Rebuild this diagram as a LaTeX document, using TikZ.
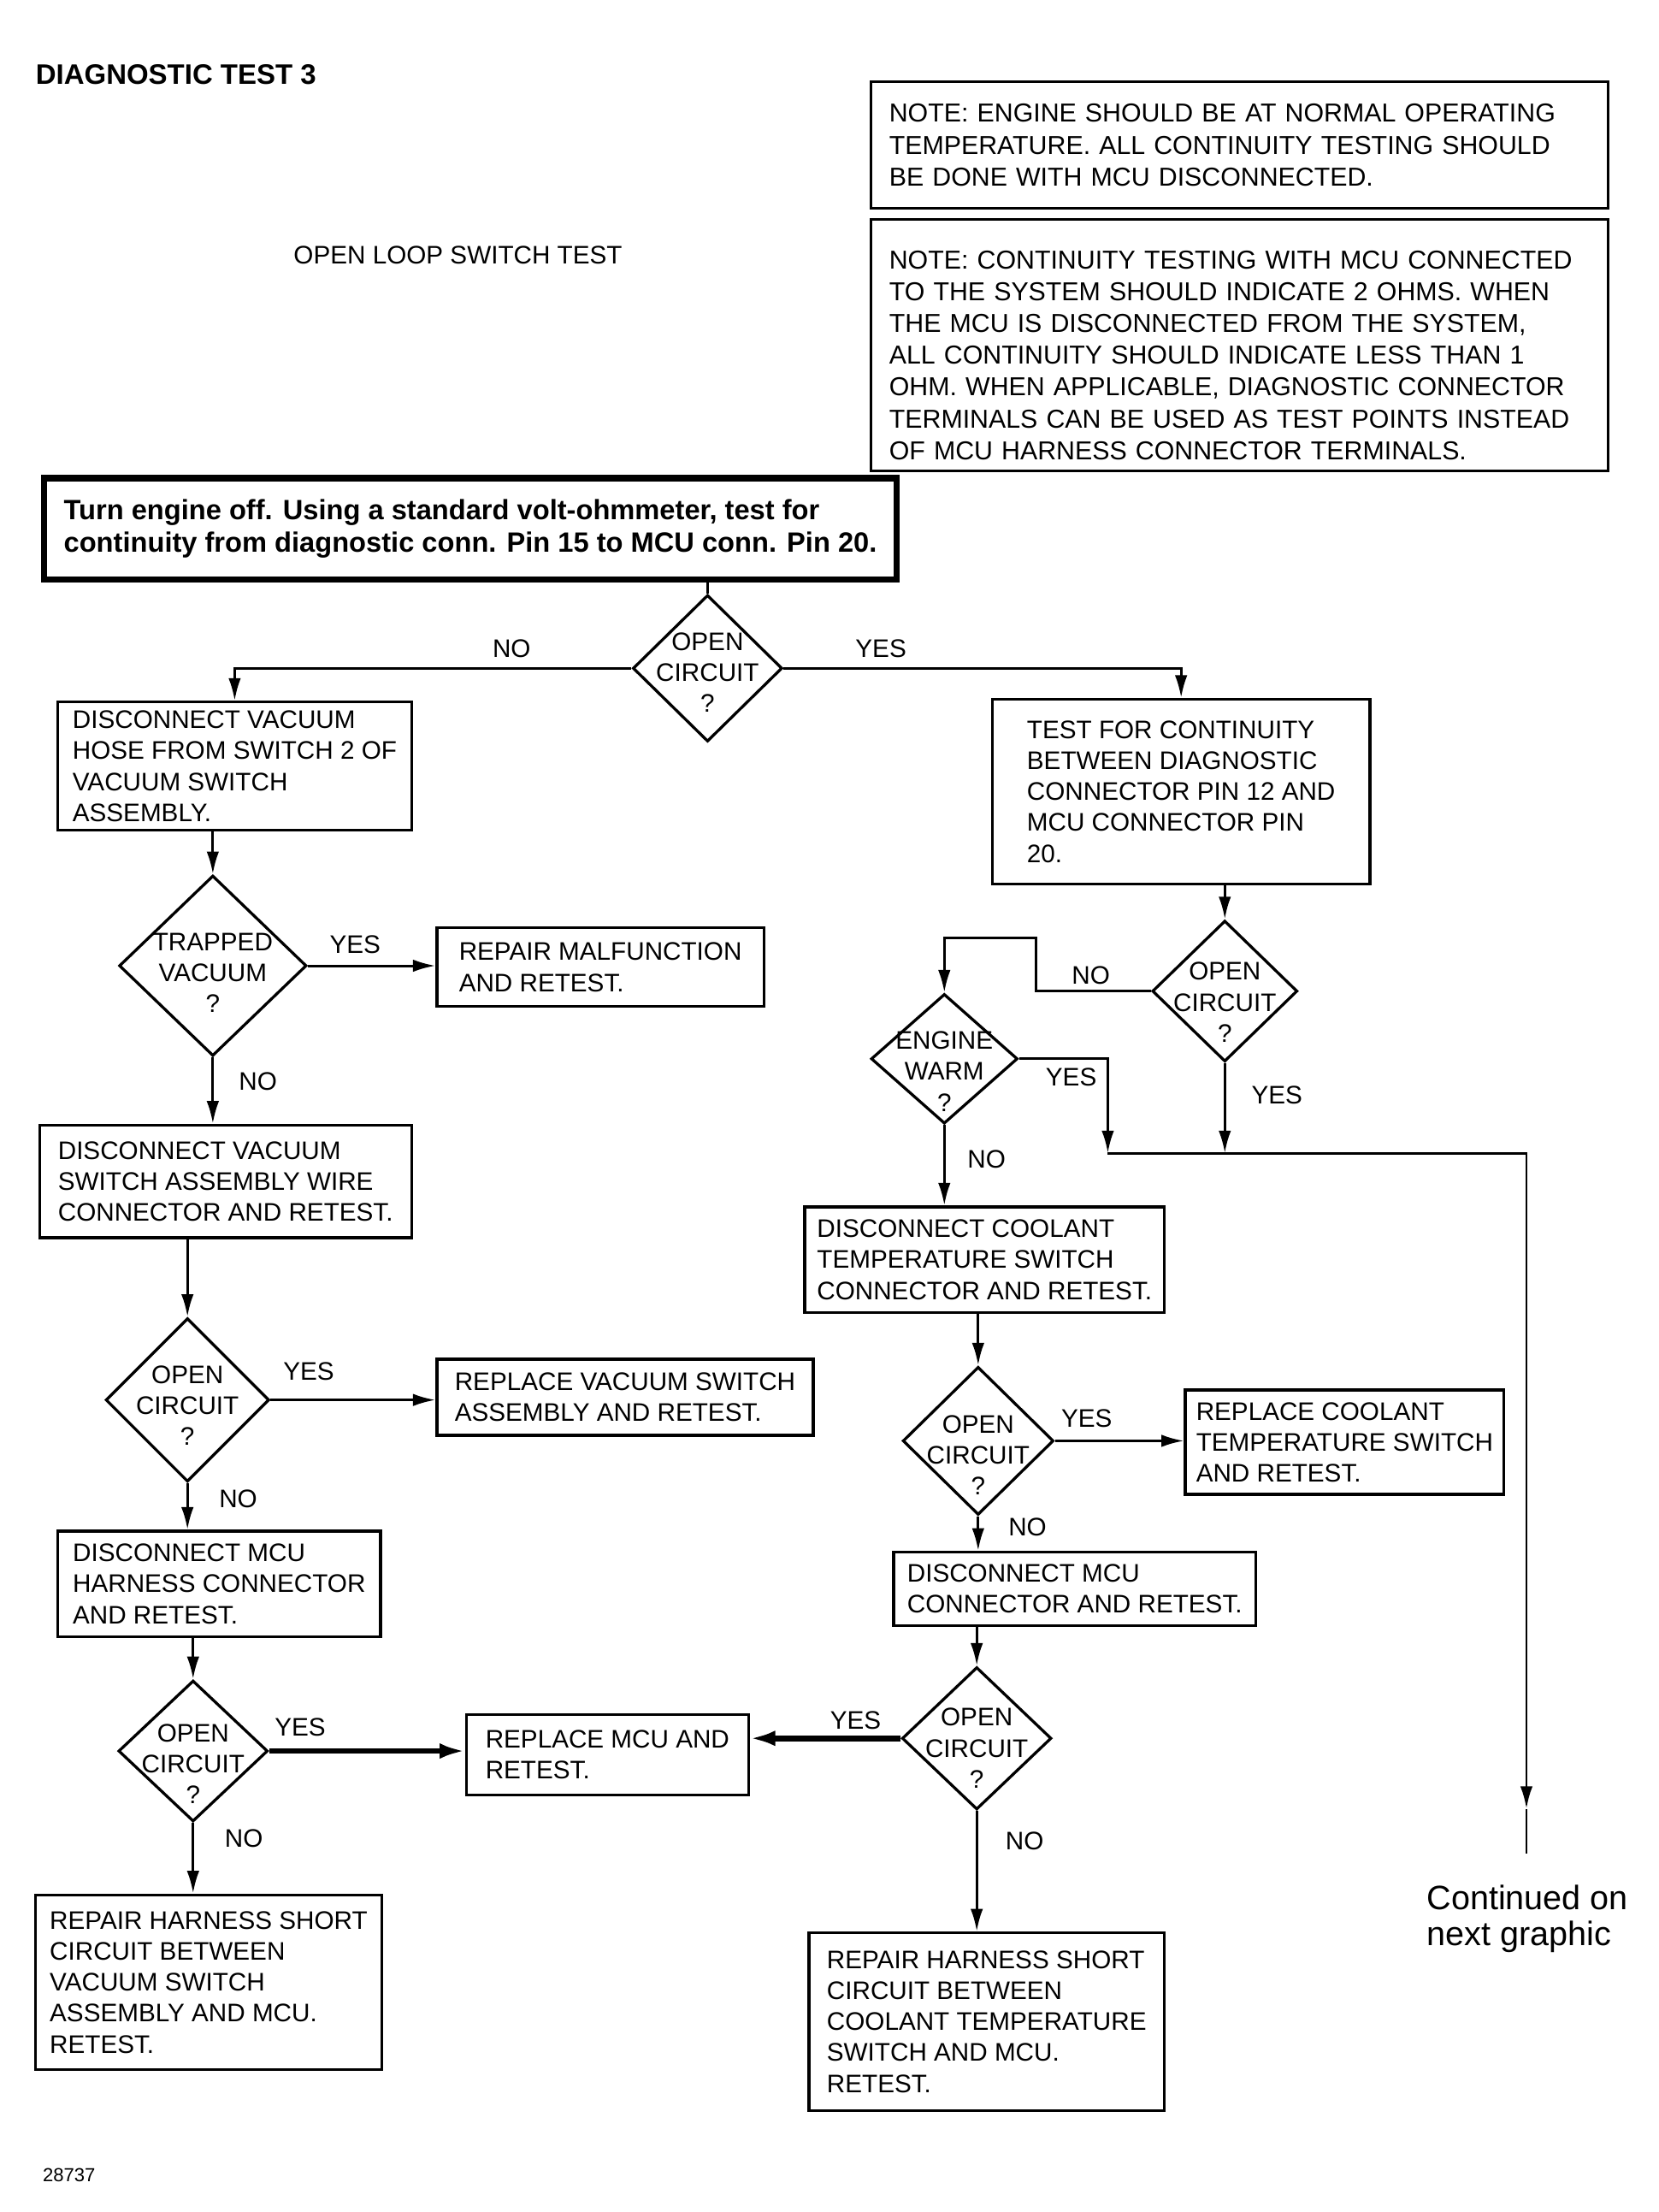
\documentclass[tikz,border=0pt]{standalone}
\usepackage{fontspec}
\setmainfont{Liberation Sans}
\usetikzlibrary{shapes.geometric,arrows.meta}

\tikzset{
  boxtext/.style={font=\fontsize{9}{11}\selectfont},
  stepbox/.style={draw, line width=1pt, anchor=north west, align=left,
    inner sep=2pt, boxtext},
  notebox/.style={draw, line width=0.9pt, anchor=north west, align=left,
    inner xsep=6.5pt, font=\fontsize{9.2}{11.25}\selectfont},
  dec/.style={diamond, draw, line width=1pt, inner sep=0pt},
  ask/.style 2 args={label={[align=center, boxtext, yshift=-#2]center:#1}},
  tag/.style={boxtext, inner sep=1pt},
  arr/.style={line width=0.9pt, -{Latex[length=8pt,width=4.4pt]}},
  fat/.style={line width=2pt, -{Latex[length=9pt,width=5.5pt]}}
}

\begin{document}
\begin{tikzpicture}[x=0.5pt, y=-0.5pt]

      \useasboundingbox (0,0) rectangle (1177,1569);

      \node[anchor=west, inner sep=0pt, font=\fontsize{10}{12}\selectfont\bfseries] (title) at (25,53) {DIAGNOSTIC TEST 3};
      \node[anchor=west, inner sep=0pt, boxtext] (sub) at (208,181) {OPEN LOOP SWITCH TEST};
      \node[anchor=west, inner sep=0pt, font=\fontsize{6.7}{8}\selectfont] (num) at (30,1543) {28737};
      \node[anchor=west, inner sep=0pt, align=left, font=\fontsize{12}{13}\selectfont] (cont) at (1012,1361) {Continued on\\next graphic};

      \node[notebox, text width=248.5pt, minimum height=45pt] (n1) at (617,57)
        {NOTE: ENGINE SHOULD BE AT NORMAL OPERATING\\TEMPERATURE. ALL CONTINUITY TESTING SHOULD\\BE DONE WITH MCU DISCONNECTED.};
      \node[notebox, text width=248.5pt, minimum height=89pt] (n2) at (617,155)
        {\rule{0pt}{13.6pt}NOTE: CONTINUITY TESTING WITH MCU CONNECTED\\TO THE SYSTEM SHOULD INDICATE 2 OHMS. WHEN\\THE MCU IS DISCONNECTED FROM THE SYSTEM,\\ALL CONTINUITY SHOULD INDICATE LESS THAN 1\\OHM. WHEN APPLICABLE, DIAGNOSTIC CONNECTOR\\TERMINALS CAN BE USED AS TEST POINTS INSTEAD\\OF MCU HARNESS CONNECTOR TERMINALS.};

      \node[draw, line width=2.2pt, anchor=north west, align=left, inner sep=2pt,
        minimum width=302.5pt, minimum height=36pt,
        font=\fontsize{9.9}{11.5}\selectfont\bfseries] (m) at (29,337)
        {Turn engine off. Using a standard volt-ohmmeter, test for\\continuity from diagnostic conn. Pin 15 to MCU conn. Pin 20.};

      \begin{scope}[every node/.style={stepbox}]
        \node[minimum width=125.5pt, minimum height=45.5pt] (b1) at (40,497)
          {DISCONNECT VACUUM\\HOSE FROM SWITCH 2 OF\\VACUUM SWITCH\\ASSEMBLY.};
        \node[minimum width=134pt, minimum height=65.5pt] (b2) at (703,495)
          {TEST FOR CONTINUITY\\BETWEEN DIAGNOSTIC\\CONNECTOR PIN 12 AND\\MCU CONNECTOR PIN\\20.};
        \node[minimum width=116pt, minimum height=28pt] (b3) at (309,657)
          {REPAIR MALFUNCTION\\AND RETEST.};
        \node[minimum width=132pt, minimum height=40pt] (b4) at (27,797)
          {DISCONNECT VACUUM\\SWITCH ASSEMBLY WIRE\\CONNECTOR AND RETEST.};
        \node[minimum width=133.5pt, minimum height=27pt] (b5) at (309,963)
          {REPLACE VACUUM SWITCH\\ASSEMBLY AND RETEST.};
        \node[minimum width=114.5pt, minimum height=37.5pt] (b6) at (40,1085)
          {DISCONNECT MCU\\HARNESS CONNECTOR\\AND RETEST.};
        \node[minimum width=100pt, minimum height=28.5pt] (b7) at (330,1215)
          {REPLACE MCU AND\\RETEST.};
        \node[minimum width=123pt, minimum height=62pt] (b8) at (24,1343)
          {REPAIR HARNESS SHORT\\CIRCUIT BETWEEN\\VACUUM SWITCH\\ASSEMBLY AND MCU.\\RETEST.};
        \node[minimum width=127.5pt, minimum height=37.5pt] (b9) at (570,855)
          {DISCONNECT COOLANT\\TEMPERATURE SWITCH\\CONNECTOR AND RETEST.};
        \node[minimum width=113pt, minimum height=37pt] (b10) at (840,985)
          {REPLACE COOLANT\\TEMPERATURE SWITCH\\AND RETEST.};
        \node[minimum width=128.5pt, minimum height=26pt] (b11) at (633,1100)
          {DISCONNECT MCU\\CONNECTOR AND RETEST.};
        \node[minimum width=126pt, minimum height=63pt] (b12) at (573,1370)
          {REPAIR HARNESS SHORT\\CIRCUIT BETWEEN\\COOLANT TEMPERATURE\\SWITCH AND MCU.\\RETEST.};
      \end{scope}

      \begin{scope}[every node/.style={dec}]
        \node[minimum width=53pt, minimum height=52pt, ask={OPEN\\CIRCUIT\\?}{1.5pt}] (d1) at (502,474) {};
        \node[minimum width=66.5pt, minimum height=64pt, ask={TRAPPED\\VACUUM\\?}{2.5pt}] (d2) at (151,685) {};
        \node[minimum width=58pt, minimum height=58pt, ask={OPEN\\CIRCUIT\\?}{2pt}] (d3) at (133,993) {};
        \node[minimum width=53pt, minimum height=50pt, ask={OPEN\\CIRCUIT\\?}{4.5pt}] (d4) at (137,1242) {};
        \node[minimum width=51.5pt, minimum height=50pt, ask={OPEN\\CIRCUIT\\?}{4pt}] (d5) at (869,703) {};
        \node[minimum width=52pt, minimum height=46pt, ask={ENGINE\\WARM\\?}{4.5pt}] (d6) at (670,751) {};
        \node[minimum width=53.5pt, minimum height=52.5pt, ask={OPEN\\CIRCUIT\\?}{5pt}] (d7) at (694,1022) {};
        \node[minimum width=53pt, minimum height=50.5pt, ask={OPEN\\CIRCUIT\\?}{3.5pt}] (d8) at (693,1233) {};
      \end{scope}

      \coordinate (k1) at (735,665);
      \coordinate (j1) at (786,818);
      \coordinate (j2) at (1083,818);
      \coordinate (j3) at (1083,1283);
      \coordinate (j4) at (1083,1315);

      \begin{scope}[every node/.style={tag}]
        \node (l1)  at (363,460)  {NO};
        \node (l2)  at (625,460)  {YES};
        \node (l3)  at (252,670)  {YES};
        \node (l4)  at (183,767)  {NO};
        \node (l5)  at (219,973)  {YES};
        \node (l6)  at (169,1063) {NO};
        \node (l7)  at (213,1225) {YES};
        \node (l8)  at (173,1304) {NO};
        \node (l9)  at (774,692)  {NO};
        \node (l10) at (906,777)  {YES};
        \node (l11) at (760,764)  {YES};
        \node (l12) at (700,822)  {NO};
        \node (l13) at (771,1006) {YES};
        \node (l14) at (729,1083) {NO};
        \node (l15) at (607,1220) {YES};
        \node (l16) at (727,1306) {NO};
      \end{scope}

      \draw[line width=0.9pt] (m.south -| d1.north) -- (d1.north);
      \draw[arr] (d1.west) -| (b1.north);
      \draw[arr] (d1.east) -| (b2.north);
      \draw[arr] (b1.south -| d2.north) -- (d2.north);
      \draw[arr] (d2.east) -- (d2.east -| b3.west);
      \draw[arr] (d2.south) -- (d2.south |- b4.north);
      \draw[arr] (b4.south -| d3.north) -- (d3.north);
      \draw[arr] (d3.east) -- (d3.east -| b5.west);
      \draw[arr] (d3.south) -- (d3.south |- b6.north);
      \draw[arr] (b6.south -| d4.north) -- (d4.north);
      \draw[fat] (d4.east) -- (d4.east -| b7.west);
      \draw[arr] (d4.south) -- (d4.south |- b8.north);

      \draw[arr] (b2.south -| d5.north) -- (d5.north);
      \draw[arr] (d5.west) -| (k1) -| (d6.north);
      \draw[arr] (d5.south) -- (d5.south |- j1);
      \draw[arr] (d6.east) -| (j1);
      \draw[arr] (j1) -- (j2) -- (j3);
      \draw[line width=0.9pt] (j3) -- (j4);
      \draw[arr] (d6.south) -- (d6.south |- b9.north);
      \draw[arr] (b9.south -| d7.north) -- (d7.north);
      \draw[arr] (d7.east) -- (d7.east -| b10.west);
      \draw[arr] (d7.south) -- (d7.south |- b11.north);
      \draw[arr] (b11.south -| d8.north) -- (d8.north);
      \draw[fat] (d8.west) -- (d8.west -| b7.east);
      \draw[arr] (d8.south) -- (d8.south |- b12.north);

    \end{tikzpicture}
\end{document}
